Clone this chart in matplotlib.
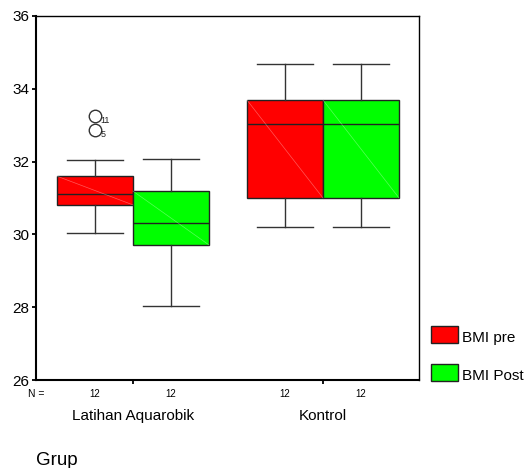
import matplotlib
matplotlib.use('Agg')
import matplotlib.pyplot as plt
from matplotlib.patches import Rectangle
from matplotlib.transforms import blended_transform_factory

plt.rcParams['font.family'] = ['Liberation Sans', 'DejaVu Sans']

# data
groups = ['Latihan Aquarobik', 'Kontrol']
series = ['BMI pre', 'BMI Post']
colors = ['#ff0000', '#00ff00']
n_counts = [[12, 12], [12, 12]]

# [group][series]
whis_lo = [[30.04, 28.03], [30.20, 30.20]]
q1 = [[30.81, 29.71], [31.00, 31.00]]
med = [[31.11, 30.31], [33.03, 33.03]]
q3 = [[31.60, 31.19], [33.69, 33.69]]
whis_hi = [[32.03, 32.06], [34.68, 34.68]]
outliers = [[[33.25, 32.87], []], [[], []]]
outlier_ids = [[['11', '5'], []], [[], []]]

fig = plt.figure(figsize=(5.29, 4.68), dpi=100)
ax = fig.add_axes([0.068, 0.188, 0.724, 0.778])

box_w = 0.4
offsets = [-0.2, 0.2]
dark = '#222222'

stats, positions, fills = [], [], []
for gi in range(len(groups)):
    for si in range(len(series)):
        stats.append(dict(med=med[gi][si], q1=q1[gi][si], q3=q3[gi][si],
                          whislo=whis_lo[gi][si], whishi=whis_hi[gi][si],
                          fliers=outliers[gi][si]))
        positions.append(gi + 1 + offsets[si])
        fills.append(colors[si])

bp = ax.bxp(stats, positions=positions, widths=box_w, capwidths=0.295,
            patch_artist=True, showfliers=True,
            boxprops=dict(edgecolor=dark, linewidth=1.0),
            medianprops=dict(color=dark, linewidth=1.0),
            whiskerprops=dict(color='#333333', linewidth=1.0),
            capprops=dict(color='#333333', linewidth=1.0),
            flierprops=dict(marker='o', markersize=9, markerfacecolor='none',
                            markeredgecolor='#333333', markeredgewidth=1.0))
for patch, c in zip(bp['boxes'], fills):
    patch.set_facecolor(c)

# faint diagonal inside each box
for st, pos in zip(stats, positions):
    ax.plot([pos - box_w / 2, pos + box_w / 2], [st['q3'], st['q1']],
            color='white', alpha=0.35, linewidth=0.5, zorder=3)

# outlier case numbers
k = 0
for gi in range(len(groups)):
    for si in range(len(series)):
        for v, lab in zip(outliers[gi][si], outlier_ids[gi][si]):
            ax.annotate(lab, (positions[k], v), xytext=(4, -3),
                        textcoords='offset points', fontsize=6.5,
                        va='center', ha='left', color='#222222')
        k += 1

ax.set_ylim(26, 36)
ax.set_xlim(0.49, 2.505)
ax.set_yticks([26, 28, 30, 32, 34, 36])
ax.set_xticks([1, 2])
ax.set_xticklabels([])
ax.tick_params(axis='y', labelsize=11, length=3, width=1.3, pad=2)
ax.tick_params(axis='x', length=3, width=1.3)

for s in ['left', 'bottom']:
    ax.spines[s].set_linewidth(1.5)
for s in ['top', 'right']:
    ax.spines[s].set_linewidth(1.0)

trans = blended_transform_factory(ax.transData, ax.transAxes)
ax.annotate('N =', (0, 0), xycoords='axes fraction', xytext=(0, -10),
            textcoords='offset points', ha='center', va='center', fontsize=7.5)
for pos, n in zip(positions, [n for row in n_counts for n in row]):
    ax.annotate(str(n), (pos, 0), xycoords=trans, xytext=(0, -10),
                textcoords='offset points', ha='center', va='center',
                fontsize=7)
for gi, g in enumerate(groups):
    ax.annotate(g, (gi + 1, 0), xycoords=trans, xytext=(0, -26),
                textcoords='offset points', ha='center', va='center',
                fontsize=11)
ax.annotate('Grup', (0, 0), xycoords='axes fraction', xytext=(0, -58),
            textcoords='offset points', ha='left', va='center', fontsize=13.5)

# legend drawn in figure pixels
W, H = fig.get_size_inches() * fig.dpi
leg_y = [334, 372]
for c, lab, yc in zip(colors, series, leg_y):
    fig.patches.append(Rectangle((431 / W, 1 - (yc + 8.5) / H), 27 / W, 17 / H,
                                 transform=fig.transFigure, facecolor=c,
                                 edgecolor=dark, linewidth=1.0))
    fig.text(462 / W, 1 - (yc + 4) / H, lab, fontsize=11, va='center', ha='left')

fig.savefig('out.png', dpi=100)
